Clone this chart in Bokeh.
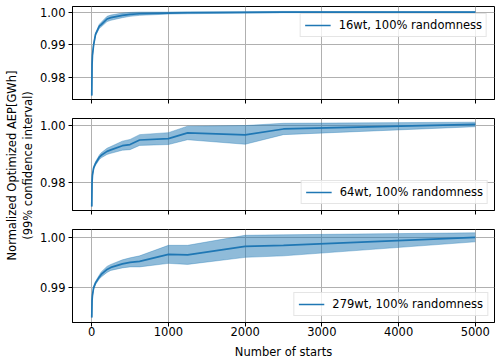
import numpy as np
from bokeh.plotting import figure
from bokeh.layouts import column, row
from bokeh.models import Range1d, FixedTicker, PrintfTickFormatter
from bokeh.core.properties import value
from bokeh.embed import file_html
from bokeh.resources import INLINE

# ---- data ----
starts = [1, 5, 10, 25, 50, 100, 125, 200, 250, 400, 500, 625, 1000, 1250, 2000, 2500, 5000]

mean_16 = [0.9746, 0.9840, 0.9868, 0.9900, 0.9932, 0.9957, 0.9962, 0.9979, 0.9983, 0.9990,
           0.9993, 0.9995, 0.9997, 0.9998, 0.9999, 1.0000, 1.0000]
half_16 = [0.0001, 0.0002, 0.0002, 0.0003, 0.0004, 0.0006, 0.0007, 0.0008, 0.0008, 0.0007,
           0.0006, 0.0005, 0.0003, 0.0003, 0.0002, 0.0002, 0.0001]

mean_64 = [0.9714, 0.9800, 0.9825, 0.9850, 0.9866, 0.9888, 0.9895, 0.9909, 0.9914, 0.9929,
           0.9933, 0.9949, 0.9954, 0.9974, 0.9967, 0.9988, 1.0004]
half_64 = [0.0001, 0.0003, 0.0004, 0.0005, 0.0006, 0.0008, 0.0009, 0.0011, 0.0012, 0.0016,
           0.0018, 0.0019, 0.0021, 0.0024, 0.0033, 0.0020, 0.0008]

mean_279 = [0.9841, 0.9875, 0.9885, 0.9900, 0.9910, 0.9922, 0.9927, 0.9937, 0.9941, 0.9948,
            0.9951, 0.9953, 0.9967, 0.9966, 0.9983, 0.9985, 1.0001]
half_279 = [0.0001, 0.0002, 0.0002, 0.0003, 0.0003, 0.0004, 0.0005, 0.0006, 0.0006, 0.0008,
            0.0009, 0.0011, 0.0018, 0.0019, 0.0022, 0.0021, 0.0009]

labels = ["16wt, 100% randomness", "64wt, 100% randomness", "279wt, 100% randomness"]
y_ticks = [[0.98, 0.99, 1.00], [0.98, 1.00], [0.99, 1.00]]
y_ranges = [(0.9734, 1.0017), (0.9700, 1.0025), (0.9831, 1.00166)]
x_ticks = [0, 1000, 2000, 3000, 4000, 5000]
x_range = (-250, 5250)
y_label = "Normalized Optimized AEP[GWh]\n(99% confidence interval)"
x_label = "Number of starts"

means = [mean_16, mean_64, mean_279]
halves = [half_16, half_64, half_279]
legend_locs = ["top_right", "bottom_right", "bottom_right"]
legend_margins = [7, 6, 6]

FONT = "DejaVu Sans"
FS = "11.5px"
C0 = "#1f77b4"
LABEL_W = 36

# layout: (height, min_border_top, min_border_bottom)
dims = [(109, 6, 10), (110, 9, 9), (142, 10, 39)]

figs = []
for i in range(3):
    h, bt, bb = dims[i]
    p = figure(width=500 - LABEL_W, height=h, output_backend="svg", toolbar_location=None,
               x_range=Range1d(*x_range), y_range=Range1d(*y_ranges[i]),
               min_border_left=72 - LABEL_W, min_border_right=6, min_border_top=bt,
               min_border_bottom=bb)
    x = np.array(starts, dtype=float)
    m = np.array(means[i])
    hw = np.array(halves[i])
    p.varea(x=x, y1=m - hw, y2=m + hw, fill_color=C0, fill_alpha=0.5)
    p.line(x, m - hw, line_color=C0, line_alpha=0.35, line_width=1)
    p.line(x, m + hw, line_color=C0, line_alpha=0.35, line_width=1)
    p.line(x, m, line_color=C0, line_width=1.7, legend_label=labels[i])

    p.outline_line_color = "black"
    p.outline_line_width = 1
    p.outline_line_alpha = 1
    p.background_fill_color = "white"
    p.border_fill_color = "white"

    for g in (p.xgrid, p.ygrid):
        g.grid_line_color = "#b0b0b0"
        g.grid_line_width = 1

    p.yaxis.ticker = FixedTicker(ticks=y_ticks[i])
    p.yaxis.formatter = PrintfTickFormatter(format="%.2f")
    p.xaxis.ticker = FixedTicker(ticks=x_ticks)
    for ax in (p.xaxis, p.yaxis):
        ax.axis_line_color = "black"
        ax.major_tick_line_color = "black"
        ax.major_tick_out = 4
        ax.major_tick_in = 0
        ax.minor_tick_out = 0
        ax.minor_tick_in = 0
        ax.major_label_text_font = FONT
        ax.major_label_text_font_size = FS
        ax.major_label_text_color = "black"
        ax.major_label_standoff = 3
        ax.axis_label_text_font = FONT
        ax.axis_label_text_font_size = FS
        ax.axis_label_text_font_style = "normal"
        ax.axis_label_text_color = "black"

    if i < 2:
        p.xaxis.major_label_overrides = {t: "" for t in x_ticks}
        p.xaxis.major_label_standoff = 0
    else:
        p.xaxis.axis_label = x_label
        p.xaxis.major_label_standoff = 0
        p.xaxis.axis_label_standoff = 6

    lg = p.legend[0]
    lg.location = legend_locs[i]
    lg.label_text_font = FONT
    lg.label_text_font_size = FS
    lg.label_text_color = "black"
    lg.glyph_width = 26
    lg.glyph_height = 12
    lg.label_height = 12
    lg.label_standoff = 8
    lg.padding = 4
    lg.margin = legend_margins[i]
    lg.border_line_color = "#cccccc"
    lg.border_line_width = 1
    lg.background_fill_alpha = 0.8
    figs.append(p)

# narrow figure holding the shared y-axis label
lab = figure(width=LABEL_W, height=361, output_backend="svg", toolbar_location=None,
             x_range=Range1d(0, LABEL_W), y_range=Range1d(0, 361),
             min_border=0, outline_line_color=None)
lab.axis.visible = False
lab.grid.visible = False
lab.text(x=[19.5], y=[361 - 165], text=[y_label], angle=np.pi / 2,
         text_align="center", text_baseline="middle", text_color="black",
         text_font=value(FONT), text_font_size=FS, text_line_height=1.2)

layout = row(lab, column(*figs, spacing=0), spacing=0)
open("out.html", "w").write(file_html(layout, INLINE))
